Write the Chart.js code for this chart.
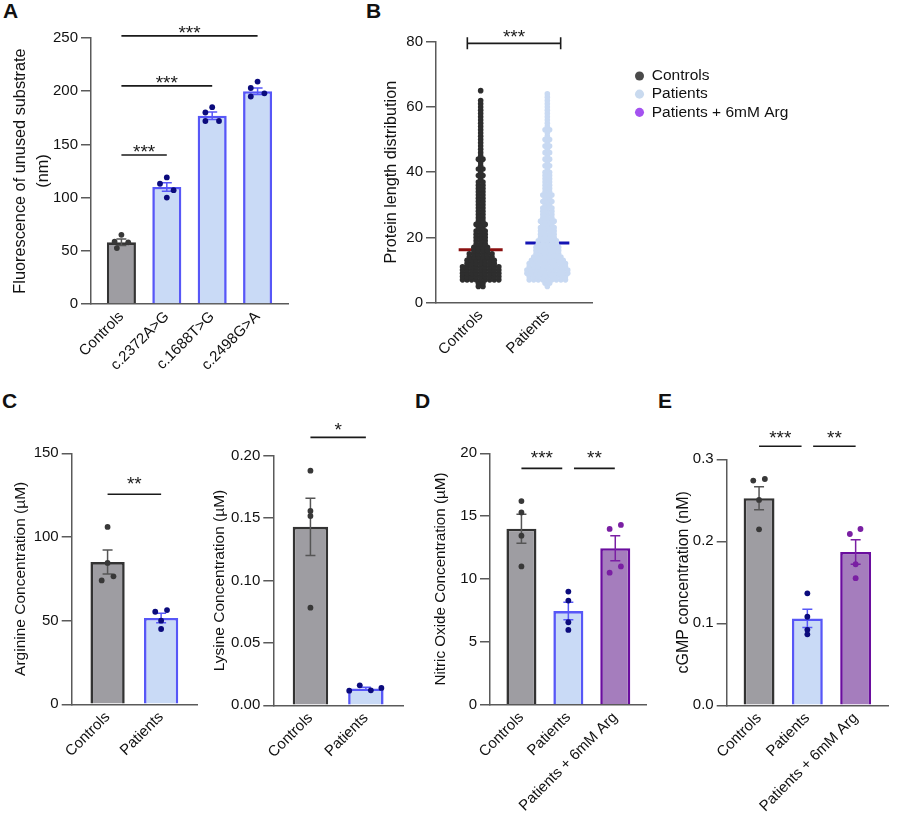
<!DOCTYPE html>
<html>
<head>
<meta charset="utf-8">
<script src="https://cdn.jsdelivr.net/npm/chart.js@4.4.1/dist/chart.umd.min.js"></script>
<style>
  body { margin: 0; background: #fff; }
  #fig { position: relative; width: 900px; height: 832px; overflow: hidden; }
  #fig canvas { position: absolute; }
  .tag { position: absolute; font: bold 21px/21px "Liberation Sans", Arial, sans-serif; color: #111; }
</style>
</head>
<body>
<div id="fig">
  <div class="tag" style="left:3px;top:0">A</div>
  <div class="tag" style="left:366px;top:0">B</div>
  <div class="tag" style="left:2px;top:390px">C</div>
  <div class="tag" style="left:415px;top:390px">D</div>
  <div class="tag" style="left:658px;top:390px">E</div>
</div>
<script>
// ---------- data ----------

// A: fluorescence of unused substrate (nm)
const aLabels = ["Controls", "c.2372A>G", "c.1688T>G", "c.2498G>A"];
const aGroups = ["ctrl", "pat", "pat", "pat"];
const aMeans = [58, 110, 177, 200];
const aSem = [3, 4, 3.5, 3];
const aPoints = [[65, 58.5, 58, 52.6], [119, 113, 107, 100], [185, 180, 172, 172], [209, 203, 195, 198]];
const aSig = [[0, 3, 252, "***"], [0, 2, 205, "***"], [0, 1, 140, "***"]];

// B: protein length distribution (swarm widths read per length)
const bLabels = ["Controls", "Patients"];
const bLengths = [5, 6, 7, 8, 9, 10, 11, 12, 13, 14, 15, 16, 17, 18, 19, 20, 21, 22, 23, 24, 25,
  26, 27, 28, 29, 30, 31, 32, 33, 34, 35, 36, 37, 38, 39, 40, 41, 42, 43, 44, 45, 46, 47, 48, 49,
  50, 51, 52, 53, 54, 55, 56, 57, 58, 59, 60, 61, 62, 63, 64, 65];
const bControlsCounts = [2, 2, 9, 9, 9, 9, 9, 7, 7, 6, 6, 4, 4, 3, 3, 3, 3, 3, 2, 3, 2, 2, 2, 2, 2,
  2, 2, 2, 2, 2, 2, 2, 2, 1, 2, 1, 2, 1, 1, 2, 1, 1, 1, 1, 1, 1, 1, 1, 1, 1, 1, 1, 1, 1, 1, 1, 1, 1,
  0, 0, 1];
const bPatientsCounts = [1, 2, 9, 9, 10, 10, 9, 9, 8, 7, 6, 6, 6, 5, 5, 4, 4, 4, 4, 3, 4, 3, 3, 3, 3,
  2, 3, 2, 3, 2, 2, 2, 2, 2, 2, 2, 1, 2, 1, 2, 1, 2, 1, 2, 1, 2, 1, 1, 2, 1, 1, 1, 1, 1, 1, 1, 1, 1,
  1, 1, 0];
const bMeans = [16.2, 18.3];
const bSig = [[-0.2, 1.2, 79.5, "***"]];

// C: arginine / lysine (µM)
const cLabels = ["Controls", "Patients"];
const cGroups = ["ctrl", "pat"];
const argMeans = [85, 51.6];
const argSem = [7.2, 2.8];
const argPoints = [[106, 84.5, 74, 76.5], [55.3, 56.3, 50, 45]];
const argSig = [[0, 1, 125.5, "**"]];
const lysMeans = [0.143, 0.0134];
const lysSem = [0.023, 0.001];
const lysPoints = [[0.188, 0.1557, 0.1517, 0.0782], [0.0117, 0.016, 0.012, 0.0139]];
const lysSig = [[0, 1, 0.2147, "*"]];

// D: nitric oxide (µM), E: cGMP (nM)
const deLabels = ["Controls", "Patients", "Patients + 6mM Arg"];
const deGroups = ["ctrl", "pat", "arg"];
const noMeans = [14.0, 7.45, 12.45];
const noSem = [1.15, 0.7, 1.0];
const noPoints = [[16.2, 15.3, 13.45, 11.0], [9.0, 8.28, 6.56, 5.95], [13.98, 14.3, 10.5, 11.0]];
const noSig = [[0, 0.87, 18.8, "***"], [1.12, 1.99, 18.8, "**"]];
const cgmpMeans = [0.2525, 0.106, 0.187];
const cgmpSem = [0.014, 0.011, 0.015];
const cgmpPoints = [[0.274, 0.276, 0.2505, 0.2146], [0.1366, 0.108, 0.092, 0.0866], [0.2089, 0.215, 0.172, 0.155]];
const cgmpSig = [[0, 0.88, 0.316, "***"], [1.12, 2.0, 0.316, "**"]];

const legendNames = ["Controls", "Patients", "Patients + 6mM Arg"];

// ---------- look ----------
const FONT = '"Liberation Sans", Arial, Helvetica, sans-serif';
const INK = "#111111";
const AXIS = "#5a5a5a";
const STYLE = {
  ctrl: { fill: "#9e9da2", border: "#333333", dot: "#383838", err: "#555555" },
  pat: { fill: "#c9daf6", border: "#5757f7", dot: "#0b0b7d", err: "#5757f7" },
  arg: { fill: "#a57dbd", border: "#6a0d9e", dot: "#7a1fa3", err: "#7a1fa3" }
};
const legendColors = ["#4a4a4a", "#c9daef", "#a452f0"];

// jitter of the dots around each bar (x units)
const aJitter = [[0, -0.15, 0.15, -0.1], [0, -0.15, 0.15, 0], [0, -0.15, -0.15, 0.15], [0, -0.15, -0.15, 0.15]];
const argJitter = [[0, 0, -0.11, 0.11], [-0.11, 0.11, 0, 0]];
const lysJitter = [[0, 0, 0, 0], [-0.3, -0.11, 0.09, 0.28]];
const noJitter = [[0, 0, 0, 0], [0, 0, 0, 0], [-0.12, 0.12, -0.12, 0.12]];
const cgmpJitter = [[-0.12, 0.12, 0, 0], [0, 0, 0, 0], [-0.12, 0.1, 0, 0]];
const swarmStep = 0.068;

// ---------- helpers ----------
function makeCanvas(box) {
  const c = document.createElement("canvas");
  const w = Math.round(box.plotRight + box.padRight - box.left);
  const h = Math.round(box.bottom - box.top);
  c.width = w;
  c.height = h;
  c.style.left = box.left + "px";
  c.style.top = box.top + "px";
  c.style.width = w + "px";
  c.style.height = h + "px";
  document.getElementById("fig").appendChild(c);
  return { c, w, h };
}

function xScale(box, h, labels) {
  return {
    type: "linear",
    min: -0.67,
    max: labels.length - 0.33,
    offset: false,
    afterBuildTicks: s => { s.ticks = labels.map((_, i) => ({ value: i })); },
    ticks: {
      autoSkip: false, minRotation: 45, maxRotation: 45, padding: 4,
      color: INK, font: { family: FONT, size: 15 },
      callback: v => labels[v]
    },
    grid: { display: false, drawTicks: false },
    border: { color: AXIS, width: 1.5 },
    afterFit: s => { s.height = h - (box.plotBottom - box.top); }
  };
}

function yScale(box, p) {
  const lh = 1.4;
  const size = p.titleSize || 15.5;
  return {
    min: 0,
    max: p.ymax,
    ticks: {
      stepSize: p.step, padding: 3, color: INK, font: { family: FONT, size: 15 },
      callback: v => v.toFixed(p.dec)
    },
    grid: { drawOnChartArea: false, drawTicks: true, tickLength: 10, color: AXIS, lineWidth: 1.5 },
    border: { color: AXIS, width: 1.5 },
    title: {
      display: true, text: p.title, color: INK,
      font: { family: FONT, size: size, lineHeight: lh },
      padding: { top: box.titleX - box.left - size * lh / 2, bottom: 0 }
    },
    afterFit: s => { s.width = box.plotLeft - box.left; }
  };
}

function baseOptions(box, w, h, p, labels) {
  return {
    responsive: false,
    animation: false,
    events: [],
    layout: { padding: { left: 0, top: box.plotTop - box.top, right: w - (box.plotRight - box.left), bottom: 0 } },
    plugins: { legend: { display: false }, tooltip: { enabled: false } },
    scales: { x: xScale(box, h, labels), y: yScale(box, p) }
  };
}

function errorBars(p) {
  return {
    id: "errorBars",
    afterDatasetDraw(chart, args) {
      if (args.index !== 0) return;
      const { ctx, scales: { x, y } } = chart;
      ctx.save();
      ctx.lineWidth = 1.5;
      p.means.forEach((m, i) => {
        const px = x.getPixelForValue(i);
        const hi = y.getPixelForValue(m + p.sem[i]);
        const lo = y.getPixelForValue(m - p.sem[i]);
        ctx.strokeStyle = STYLE[p.groups[i]].err;
        ctx.beginPath();
        ctx.moveTo(px, hi); ctx.lineTo(px, lo);
        ctx.moveTo(px - 5, hi); ctx.lineTo(px + 5, hi);
        ctx.moveTo(px - 5, lo); ctx.lineTo(px + 5, lo);
        ctx.stroke();
      });
      ctx.restore();
    }
  };
}

function sigMarks(p) {
  return {
    id: "sigMarks",
    afterDraw(chart) {
      const { ctx, scales: { x, y } } = chart;
      ctx.save();
      ctx.strokeStyle = "#1a1a1a";
      ctx.fillStyle = "#1a1a1a";
      ctx.lineWidth = 1.6;
      ctx.font = "19px " + FONT;
      ctx.textAlign = "center";
      ctx.textBaseline = "alphabetic";
      p.sigs.forEach(([a, b, v, label]) => {
        const x1 = x.getPixelForValue(a), x2 = x.getPixelForValue(b), py = y.getPixelForValue(v);
        ctx.beginPath();
        ctx.moveTo(x1, py); ctx.lineTo(x2, py);
        if (p.ends) {
          ctx.moveTo(x1, py - 6); ctx.lineTo(x1, py + 6);
          ctx.moveTo(x2, py - 6); ctx.lineTo(x2, py + 6);
        }
        ctx.stroke();
        ctx.fillText(label, (x1 + x2) / 2, py - p.lift + 8.4);
      });
      ctx.restore();
    }
  };
}

function barPanel(box, p) {
  const { c, w, h } = makeCanvas(box);
  const pts = [], ptCol = [];
  p.points.forEach((vals, i) => vals.forEach((v, k) => {
    pts.push({ x: i + p.jitter[i][k], y: v });
    ptCol.push(STYLE[p.groups[i]].dot);
  }));
  new Chart(c, {
    type: "bar",
    data: {
      datasets: [
        {
          type: "bar",
          data: p.means.map((m, i) => ({ x: i, y: m })),
          backgroundColor: p.groups.map(g => STYLE[g].fill),
          borderColor: p.groups.map(g => STYLE[g].border),
          borderWidth: 2.6,
          barPercentage: 0.64,
          categoryPercentage: 1,
          order: 2
        },
        {
          type: "scatter",
          data: pts,
          pointRadius: 2.9,
          pointBackgroundColor: ptCol,
          pointBorderWidth: 0,
          order: 1
        }
      ]
    },
    options: baseOptions(box, w, h, p, p.labels),
    plugins: [errorBars(p), sigMarks(p)]
  });
}

function swarm(center, counts) {
  const out = [];
  bLengths.forEach((len, r) => {
    const n = counts[r];
    for (let k = 0; k < n; k++) out.push({ x: center + (k - (n - 1) / 2) * swarmStep, y: len });
  });
  return out;
}

// ---------- A ----------
barPanel(
  { left: 0, top: 0, plotLeft: 91, plotRight: 288, plotTop: 38, plotBottom: 304, bottom: 392, padRight: 10, titleX: 21 },
  { labels: aLabels, groups: aGroups, means: aMeans, sem: aSem, points: aPoints, jitter: aJitter,
    ymax: 250, step: 50, dec: 0, title: ["Fluorescence of unused substrate", "(nm)"], titleSize: 16.3,
    sigs: aSig, lift: 5.5, ends: false }
);

// ---------- B ----------
(function () {
  const box = { left: 360, top: 0, plotLeft: 436, plotRight: 592, plotTop: 41.7, plotBottom: 302.7, bottom: 392, padRight: 8, titleX: 392 };
  const p = { ymax: 80, step: 20, dec: 0, title: "Protein length distribution", titleSize: 16.2, sigs: bSig, lift: 8.5, ends: true };
  const { c, w, h } = makeCanvas(box);
  new Chart(c, {
    type: "scatter",
    data: {
      datasets: [
        { data: swarm(0, bControlsCounts), backgroundColor: "#2e2e2e", pointRadius: 2.8, pointBorderWidth: 0, order: 1 },
        { data: swarm(1, bPatientsCounts), backgroundColor: "#c8d9f2", pointRadius: 2.8, pointBorderWidth: 0, order: 1 },
        { type: "line", data: [{ x: -0.33, y: bMeans[0] }, { x: 0.33, y: bMeans[0] }], borderColor: "#8b1010", borderWidth: 3, pointRadius: 0, order: 2 },
        { type: "line", data: [{ x: 0.67, y: bMeans[1] }, { x: 1.33, y: bMeans[1] }], borderColor: "#1414b4", borderWidth: 3, pointRadius: 0, order: 2 }
      ]
    },
    options: baseOptions(box, w, h, p, bLabels),
    plugins: [sigMarks(p)]
  });
})();

// ---------- legend ----------
(function () {
  const { c } = makeCanvas({ left: 625, top: 60, plotRight: 1025, padRight: 0, bottom: 140 });
  new Chart(c, {
    type: "scatter",
    data: {
      datasets: legendNames.map((name, i) => ({
        label: name, data: [], backgroundColor: legendColors[i], borderColor: legendColors[i], borderWidth: 0
      }))
    },
    options: {
      responsive: false, animation: false, events: [],
      layout: { padding: { left: 7.3, top: 5.5 } },
      scales: { x: { display: false }, y: { display: false } },
      plugins: {
        tooltip: { enabled: false },
        legend: {
          position: "left", align: "start",
          labels: {
            usePointStyle: true, pointStyle: "circle", boxWidth: 9, boxHeight: 6.4, padding: 2.7,
            color: INK, font: { family: FONT, size: 15.5 }
          }
        }
      }
    }
  });
})();

// ---------- C ----------
barPanel(
  { left: 0, top: 400, plotLeft: 71.7, plotRight: 197, plotTop: 453.3, plotBottom: 704.3, bottom: 800, padRight: 8, titleX: 21 },
  { labels: cLabels, groups: cGroups, means: argMeans, sem: argSem, points: argPoints, jitter: argJitter,
    ymax: 150, step: 50, dec: 0, title: "Arginine Concentration (\u00b5M)",
    sigs: argSig, lift: 12.6, ends: false }
);
barPanel(
  { left: 200, top: 400, plotLeft: 273.3, plotRight: 403, plotTop: 455.7, plotBottom: 705.3, bottom: 800, padRight: 6, titleX: 220 },
  { labels: cLabels, groups: cGroups, means: lysMeans, sem: lysSem, points: lysPoints, jitter: lysJitter,
    ymax: 0.2, step: 0.05, dec: 2, title: "Lysine Concentration (\u00b5M)",
    sigs: lysSig, lift: 10, ends: false }
);

// ---------- D ----------
barPanel(
  { left: 420, top: 400, plotLeft: 490, plotRight: 646.7, plotTop: 453.3, plotBottom: 704.7, bottom: 832, padRight: 6, titleX: 441 },
  { labels: deLabels, groups: deGroups, means: noMeans, sem: noSem, points: noPoints, jitter: noJitter,
    ymax: 20, step: 5, dec: 0, title: "Nitric Oxide Concentration (\u00b5M)", titleSize: 15.2,
    sigs: noSig, lift: 13, ends: false }
);

// ---------- E ----------
barPanel(
  { left: 665, top: 400, plotLeft: 726.7, plotRight: 888, plotTop: 459.3, plotBottom: 705.3, bottom: 832, padRight: 8, titleX: 684 },
  { labels: deLabels, groups: deGroups, means: cgmpMeans, sem: cgmpSem, points: cgmpPoints, jitter: cgmpJitter,
    ymax: 0.3, step: 0.1, dec: 1, title: "cGMP concentration (nM)", titleSize: 16,
    sigs: cgmpSig, lift: 11, ends: false }
);
</script>
</body>
</html>
